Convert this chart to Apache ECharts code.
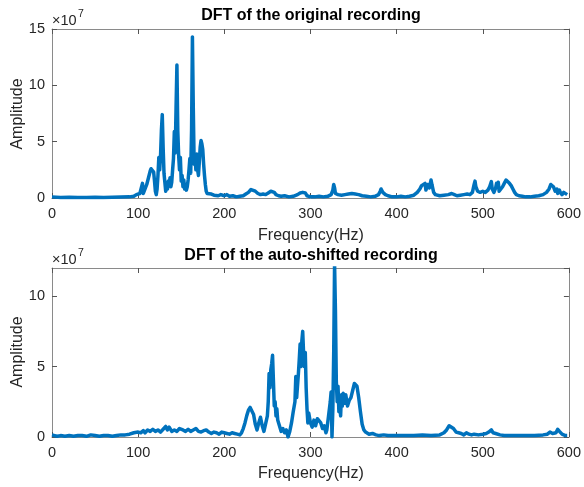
<!DOCTYPE html>
<html><head><meta charset="utf-8">
<script src="https://cdn.jsdelivr.net/npm/echarts@6/dist/echarts.min.js"></script>
<style>html,body{margin:0;padding:0;background:#fff}#c{width:584px;height:487px}</style>
</head><body><div id="c"></div>
<script>
// Frequencies (Hz) and amplitudes (x1e7)
const freqTop = [0,10,20,30,40,50,60,70,80,90,95,98,100,102,104,105,106,108,110,112,114,115,117,118,119,120,121,122,123,124,125,126,127,128,129,130,131,132,133,134,135,136,137,138,139,140,141,142,143,144,145,146,147,148,149,150,151,152,153,154,155,156,157,158,159,160,161,162,163,164,165,166,167,168,169,170,171,172,173,174,175,176,177,178,179,180,182,185,188,190,193,196,200,203,206,210,214,218,222,225,228,231,233,236,239,242,245,248,251,254,256,258,260,263,266,270,275,280,285,288,291,294,296,300,305,310,315,320,324,326,327,328,329,332,336,340,344,348,352,356,360,365,370,375,379,381,382,384,387,390,395,400,405,410,415,420,424,427,429,431,433,434,436,438,440,441,443,445,450,455,460,464,467,470,474,478,482,485,488,490,491,492,494,497,500,503,506,508,510,511,513,515,516,517,518,519,521,523,525,527,529,531,533,535,537,539,542,546,550,555,560,565,570,574,577,579,580,582,584,586,587,589,590,592,594,596,598];
const ampTop = [0.1,0.05,0.06,0.05,0.05,0.06,0.05,0.06,0.08,0.1,0.15,0.3,0.2,0.4,0.5,1.3,0.4,0.8,1.2,1.8,2.4,2.6,2.5,2.3,1.5,0.6,0.3,0.8,2.0,3.6,2.5,3.8,6.0,7.4,4.5,2.2,1.4,0.6,1.2,0.8,1.5,1.2,1.8,1.0,1.4,2.5,3.5,5.9,4.0,8.0,11.8,6.0,3.8,2.5,3.6,1.5,2.0,1.0,1.6,0.8,1.2,0.7,1.0,1.6,2.5,3.5,2.2,6.0,14.3,8.0,3.0,3.8,2.5,3.9,2.5,2.0,3.2,4.5,5.1,4.8,4.3,3.0,2.0,1.2,0.6,0.4,0.3,0.35,0.25,0.3,0.2,0.3,0.2,0.3,0.15,0.2,0.1,0.15,0.2,0.35,0.5,0.75,0.8,0.6,0.4,0.3,0.35,0.3,0.45,0.6,0.7,0.5,0.3,0.2,0.15,0.2,0.1,0.15,0.3,0.45,0.5,0.45,0.2,0.1,0.1,0.15,0.1,0.15,0.3,0.7,1.2,0.9,0.4,0.3,0.25,0.3,0.35,0.4,0.35,0.3,0.2,0.15,0.1,0.15,0.3,0.6,0.8,0.5,0.3,0.2,0.1,0.1,0.15,0.1,0.15,0.25,0.5,0.8,1.1,1.0,1.3,0.7,1.2,0.9,1.6,1.2,0.5,0.3,0.2,0.25,0.3,0.4,0.3,0.2,0.25,0.3,0.35,0.3,0.5,1.2,1.5,1.0,0.6,0.5,0.6,0.5,0.7,1.0,1.45,0.8,0.5,0.9,1.3,1.0,1.4,0.6,0.8,1.0,1.3,1.6,1.5,1.3,1.1,0.8,0.5,0.3,0.2,0.15,0.1,0.1,0.15,0.2,0.3,0.5,0.8,1.2,1.35,1.0,0.6,0.8,0.4,0.7,0.5,0.3,0.5,0.35,0.3];
const freqBot = [0,3,6,10,15,20,25,30,35,40,45,50,55,60,65,70,75,80,85,90,95,100,103,106,108,111,114,117,120,123,126,129,132,134,136,139,142,145,148,150,152,155,158,161,164,167,170,173,176,179,182,185,188,191,194,197,200,203,206,209,212,215,218,220,222,224,226,228,230,232,234,236,238,240,242,244,246,248,250,251,252,253,254,255,256,257,258,259,260,261,262,264,266,268,270,272,274,276,278,280,282,283,284,286,287,288,289,290,291,292,293,294,295,296,297,298,300,302,304,306,308,310,312,314,316,318,319,321,323,324,325,326,327,328,329,330,331,332,333,334,335,336,337,338,340,341,343,345,347,349,351,352,354,356,358,360,362,364,366,368,372,376,380,385,390,395,400,410,420,430,440,450,455,458,461,463,466,469,472,475,478,481,484,487,490,495,500,504,507,510,512,515,520,525,530,540,550,560,570,575,578,581,585,587,589,592,596,598];
const ampBot = [0.15,0.1,0.05,0.1,0.05,0.1,0.05,0.1,0.1,0.05,0.15,0.1,0.05,0.1,0.1,0.05,0.1,0.15,0.15,0.2,0.3,0.35,0.3,0.45,0.3,0.5,0.4,0.55,0.4,0.5,0.35,0.55,0.75,0.5,0.7,0.4,0.5,0.4,0.6,0.7,0.5,0.4,0.55,0.4,0.5,0.6,0.4,0.35,0.45,0.5,0.35,0.25,0.35,0.3,0.2,0.35,0.3,0.25,0.2,0.3,0.25,0.2,0.15,0.3,0.6,1.0,1.5,1.9,2.1,2.0,1.6,0.9,0.5,1.0,1.4,0.8,0.4,0.5,1.5,2.5,4.5,3.5,4.8,5.2,5.8,4.0,2.2,2.5,1.5,2.0,1.2,0.8,0.4,0.6,0.3,0.5,0.0,0.4,1.0,1.8,2.5,4.3,2.8,4.5,5.5,6.6,5.0,6.8,7.5,6.0,5.0,6.0,3.5,2.0,1.0,1.7,1.0,0.7,1.2,0.8,1.3,1.2,1.0,0.6,0.8,0.3,0.5,1.5,2.5,3.2,0.0,2.0,6.0,12.3,9.0,4.0,2.5,3.6,1.8,2.8,1.5,3.0,2.2,3.1,2.4,3.0,2.2,2.6,2.8,3.3,3.8,3.9,3.6,2.8,1.8,0.9,0.5,0.35,0.3,0.2,0.25,0.15,0.1,0.15,0.1,0.1,0.1,0.1,0.1,0.15,0.1,0.15,0.3,0.5,0.8,0.87,0.6,0.35,0.3,0.25,0.15,0.3,0.2,0.15,0.2,0.15,0.2,0.25,0.35,0.5,0.3,0.25,0.15,0.1,0.1,0.1,0.1,0.1,0.15,0.2,0.35,0.25,0.3,0.55,0.4,0.2,0.1,0.1];

const zip = (f,a) => f.map((v,i)=>[v,a[i]]);
const FONT = '"Liberation Sans", Arial, Helvetica, sans-serif';
const lineC = '#8a8a8a', txtC = '#262626';
const grids = [
  {left:52, top:29, width:519, height:169},
  {left:52, top:268, width:519, height:169}
];
function xAx(g, pos, lab){
  return {type:'value', gridIndex:g, position:pos, min:0, max:600, interval:100,
    axisLine:{show:true, onZero:false, lineStyle:{color:lineC, width:1}},
    axisTick:{show:true, inside:true, length:5, lineStyle:{color:'#555'}},
    axisLabel:{show:lab, color:txtC, fontSize:14.5, fontFamily:FONT, margin:8},
    splitLine:{show:false}};
}
function yAx(g, pos, lab, max){
  return {type:'value', gridIndex:g, position:pos, min:0, max:max, interval:5,
    axisLine:{show:true, onZero:false, lineStyle:{color:lineC, width:1}},
    axisTick:{show:true, inside:true, length:5, lineStyle:{color:'#555'}},
    axisLabel:{show:lab, color:txtC, fontSize:14.5, fontFamily:FONT, margin:7,
      showMaxLabel: max % 5 === 0, formatter: v => (v % 5 === 0 ? String(v) : '')},
    splitLine:{show:false}};
}
const chart = echarts.init(document.getElementById('c'), null, {renderer:'canvas'});
const txt = (x,y,t,o) => Object.assign({type:'text', x:x, y:y, style:Object.assign({text:t, fill:txtC, font:'16px '+FONT, textAlign:'center', textVerticalAlign:'middle'}, o||{})});
chart.setOption({
  animation:false,
  backgroundColor:'#fff',
  grid: grids,
  xAxis:[xAx(0,'bottom',true), xAx(0,'top',false), xAx(1,'bottom',true), xAx(1,'top',false)],
  yAxis:[yAx(0,'left',true,15), yAx(0,'right',false,15), yAx(1,'left',true,12), yAx(1,'right',false,12)],
  series:[
    {type:'line', xAxisIndex:0, yAxisIndex:0, data:zip(freqTop,ampTop), showSymbol:false, clip:true,
      lineStyle:{color:'#0072BD', width:3.5, join:'round'}, itemStyle:{color:'#0072BD'}},
    {type:'line', xAxisIndex:2, yAxisIndex:2, data:zip(freqBot,ampBot), showSymbol:false, clip:true,
      lineStyle:{color:'#0072BD', width:3.5, join:'round'}, itemStyle:{color:'#0072BD'}}
  ],
  graphic:[
    txt(311,16,'DFT of the original recording',{font:'bold 16px '+FONT, fill:'#000'}),
    txt(311,256,'DFT of the auto-shifted recording',{font:'bold 16px '+FONT, fill:'#000'}),
    txt(311,236,'Frequency(Hz)'),
    txt(311,474,'Frequency(Hz)'),
    {type:'text', x:18, y:114, rotation:Math.PI/2, style:{text:'Amplitude', fill:txtC, font:'16px '+FONT, textAlign:'center', textVerticalAlign:'middle'}},
    {type:'text', x:18, y:352, rotation:Math.PI/2, style:{text:'Amplitude', fill:txtC, font:'16px '+FONT, textAlign:'center', textVerticalAlign:'middle'}},
    txt(52,21,'×10',{font:'14.5px '+FONT, textAlign:'left'}),
    txt(78,14,'7',{font:'10.5px '+FONT, textAlign:'left'}),
    txt(52,260,'×10',{font:'14.5px '+FONT, textAlign:'left'}),
    txt(78,253,'7',{font:'10.5px '+FONT, textAlign:'left'})
  ]
});
</script></body></html>
